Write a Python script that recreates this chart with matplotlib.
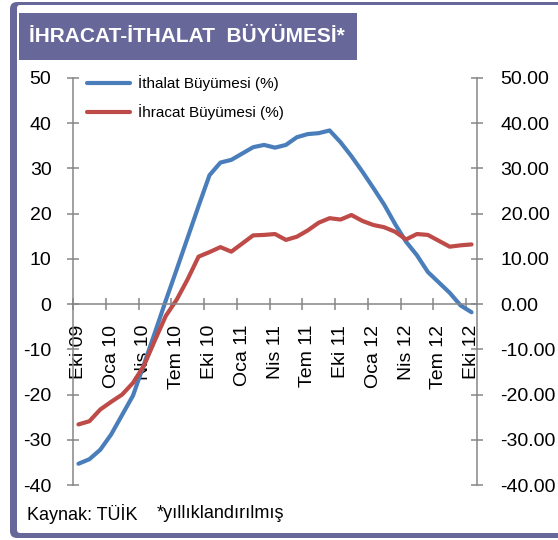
import matplotlib
matplotlib.use("Agg")
import matplotlib.pyplot as plt
import numpy as np
from matplotlib.patches import FancyBboxPatch, Rectangle
from matplotlib.ticker import FormatStrFormatter

plt.rcParams['font.family'] = ['Liberation Sans', 'DejaVu Sans']
plt.rcParams['axes.unicode_minus'] = False

# veriler (Eki 09 - Eki 12, aylık, yıllıklandırılmış % büyüme)
etiketler = ["Eki 09", "Oca 10", "Nis 10", "Tem 10", "Eki 10", "Oca 11", "Nis 11",
             "Tem 11", "Eki 11", "Oca 12", "Nis 12", "Tem 12", "Eki 12"]
ithalat = [-35.3, -34.3, -32.2, -28.8, -24.5, -20.2, -13.3, -6.3, 0.8, 7.7, 14.7, 21.7,
           28.5, 31.3, 31.9, 33.3, 34.7, 35.2, 34.6, 35.2, 36.9, 37.6, 37.8, 38.4,
           35.8, 32.7, 29.3, 25.7, 22.0, 17.7, 13.8, 10.8, 7.1, 4.8, 2.5, -0.3, -1.8]
ihracat = [-26.6, -25.9, -23.3, -21.6, -20.0, -17.4, -13.6, -8.0, -2.6, 1.0, 5.5, 10.5,
           11.5, 12.6, 11.6, 13.4, 15.2, 15.3, 15.5, 14.2, 14.9, 16.3, 18.0, 19.0,
           18.7, 19.7, 18.4, 17.5, 17.0, 16.0, 14.3, 15.5, 15.3, 14.0, 12.7, 13.0, 13.2]

mor = '#67679A'
mavi = '#4A7EBB'
kirmizi = '#BE4B48'
gri = '#868686'

W, H = 558, 540
fig = plt.figure(figsize=(W / 100, H / 100), dpi=100)

# arka plan: çerçeve, başlık kutusu, dipnot
bg = fig.add_axes([0, 0, 1, 1], zorder=-1)
bg.set_xlim(0, W)
bg.set_ylim(H, 0)
bg.axis('off')
bg.add_patch(FancyBboxPatch((10, 2), 600, 536, boxstyle="round,pad=0,rounding_size=7",
                            fc=mor, ec='none'))
bg.add_patch(FancyBboxPatch((17, 5), 600, 528, boxstyle="round,pad=0,rounding_size=3",
                            fc='white', ec='none'))
bg.add_patch(Rectangle((19, 13), 338, 47, fc=mor, ec='none'))
bg.text(29, 37, "İHRACAT-İTHALAT  BÜYÜMESİ*", color='white', fontsize=15,
        fontweight='bold', va='center', ha='left')
bg.text(27, 514, "Kaynak: TÜİK", fontsize=13, va='center', ha='left')
bg.text(157, 514, "*yıllıklandırılmış", fontsize=13, va='center', ha='left')

# grafik
ax = fig.add_axes([73 / W, 1 - 485 / H, (477 - 73) / W, (485 - 78) / H])
ax.patch.set_visible(False)
x = np.arange(len(ithalat))
ax.plot(x, ithalat, color=mavi, lw=3, label='İthalat Büyümesi (%)',
        solid_capstyle='round', solid_joinstyle='round')
ax.plot(x, ihracat, color=kirmizi, lw=3, label='İhracat Büyümesi (%)',
        solid_capstyle='round', solid_joinstyle='round')
ax.set_xlim(-0.5, len(ithalat) - 0.5)
ax.set_ylim(-40, 50)
ax.set_yticks(range(-40, 51, 10))

for s in ['top', 'right']:
    ax.spines[s].set_visible(False)
ax.spines['bottom'].set_position(('data', 0))
for s in ['left', 'bottom']:
    ax.spines[s].set_color(gri)
    ax.spines[s].set_linewidth(1.1)

ax.set_xticks(range(0, len(ithalat), 3))
ax.set_xticklabels(etiketler, rotation=90, va='top', ha='center')
ax.set_xticks(np.arange(-0.5, len(ithalat) - 1, 3), minor=True)
ax.tick_params(axis='x', which='major', length=0, pad=15, labelsize=14)
ax.tick_params(axis='x', which='minor', length=8, direction='inout', color=gri, width=1.1)
ax.tick_params(axis='y', direction='inout', length=8, color=gri, width=1.1, pad=11.5,
               labelsize=14)

ax2 = ax.twinx()
ax2.set_ylim(-40, 50)
ax2.set_yticks(range(-40, 51, 10))
ax2.yaxis.set_major_formatter(FormatStrFormatter('%.2f'))
for s in ['top', 'bottom', 'left']:
    ax2.spines[s].set_visible(False)
ax2.spines['right'].set_color(gri)
ax2.spines['right'].set_linewidth(1.1)
ax2.tick_params(axis='y', direction='inout', length=8, color=gri, width=1.1, pad=13,
                labelsize=14)

ax.legend(loc='upper left', bbox_to_anchor=(87 / W, 1 - 75 / H),
          bbox_transform=fig.transFigure, frameon=False, fontsize=11,
          handlelength=2.8, handletextpad=0.52, labelspacing=0.88,
          borderpad=0, borderaxespad=0)

fig.savefig("out.png", dpi=100)
